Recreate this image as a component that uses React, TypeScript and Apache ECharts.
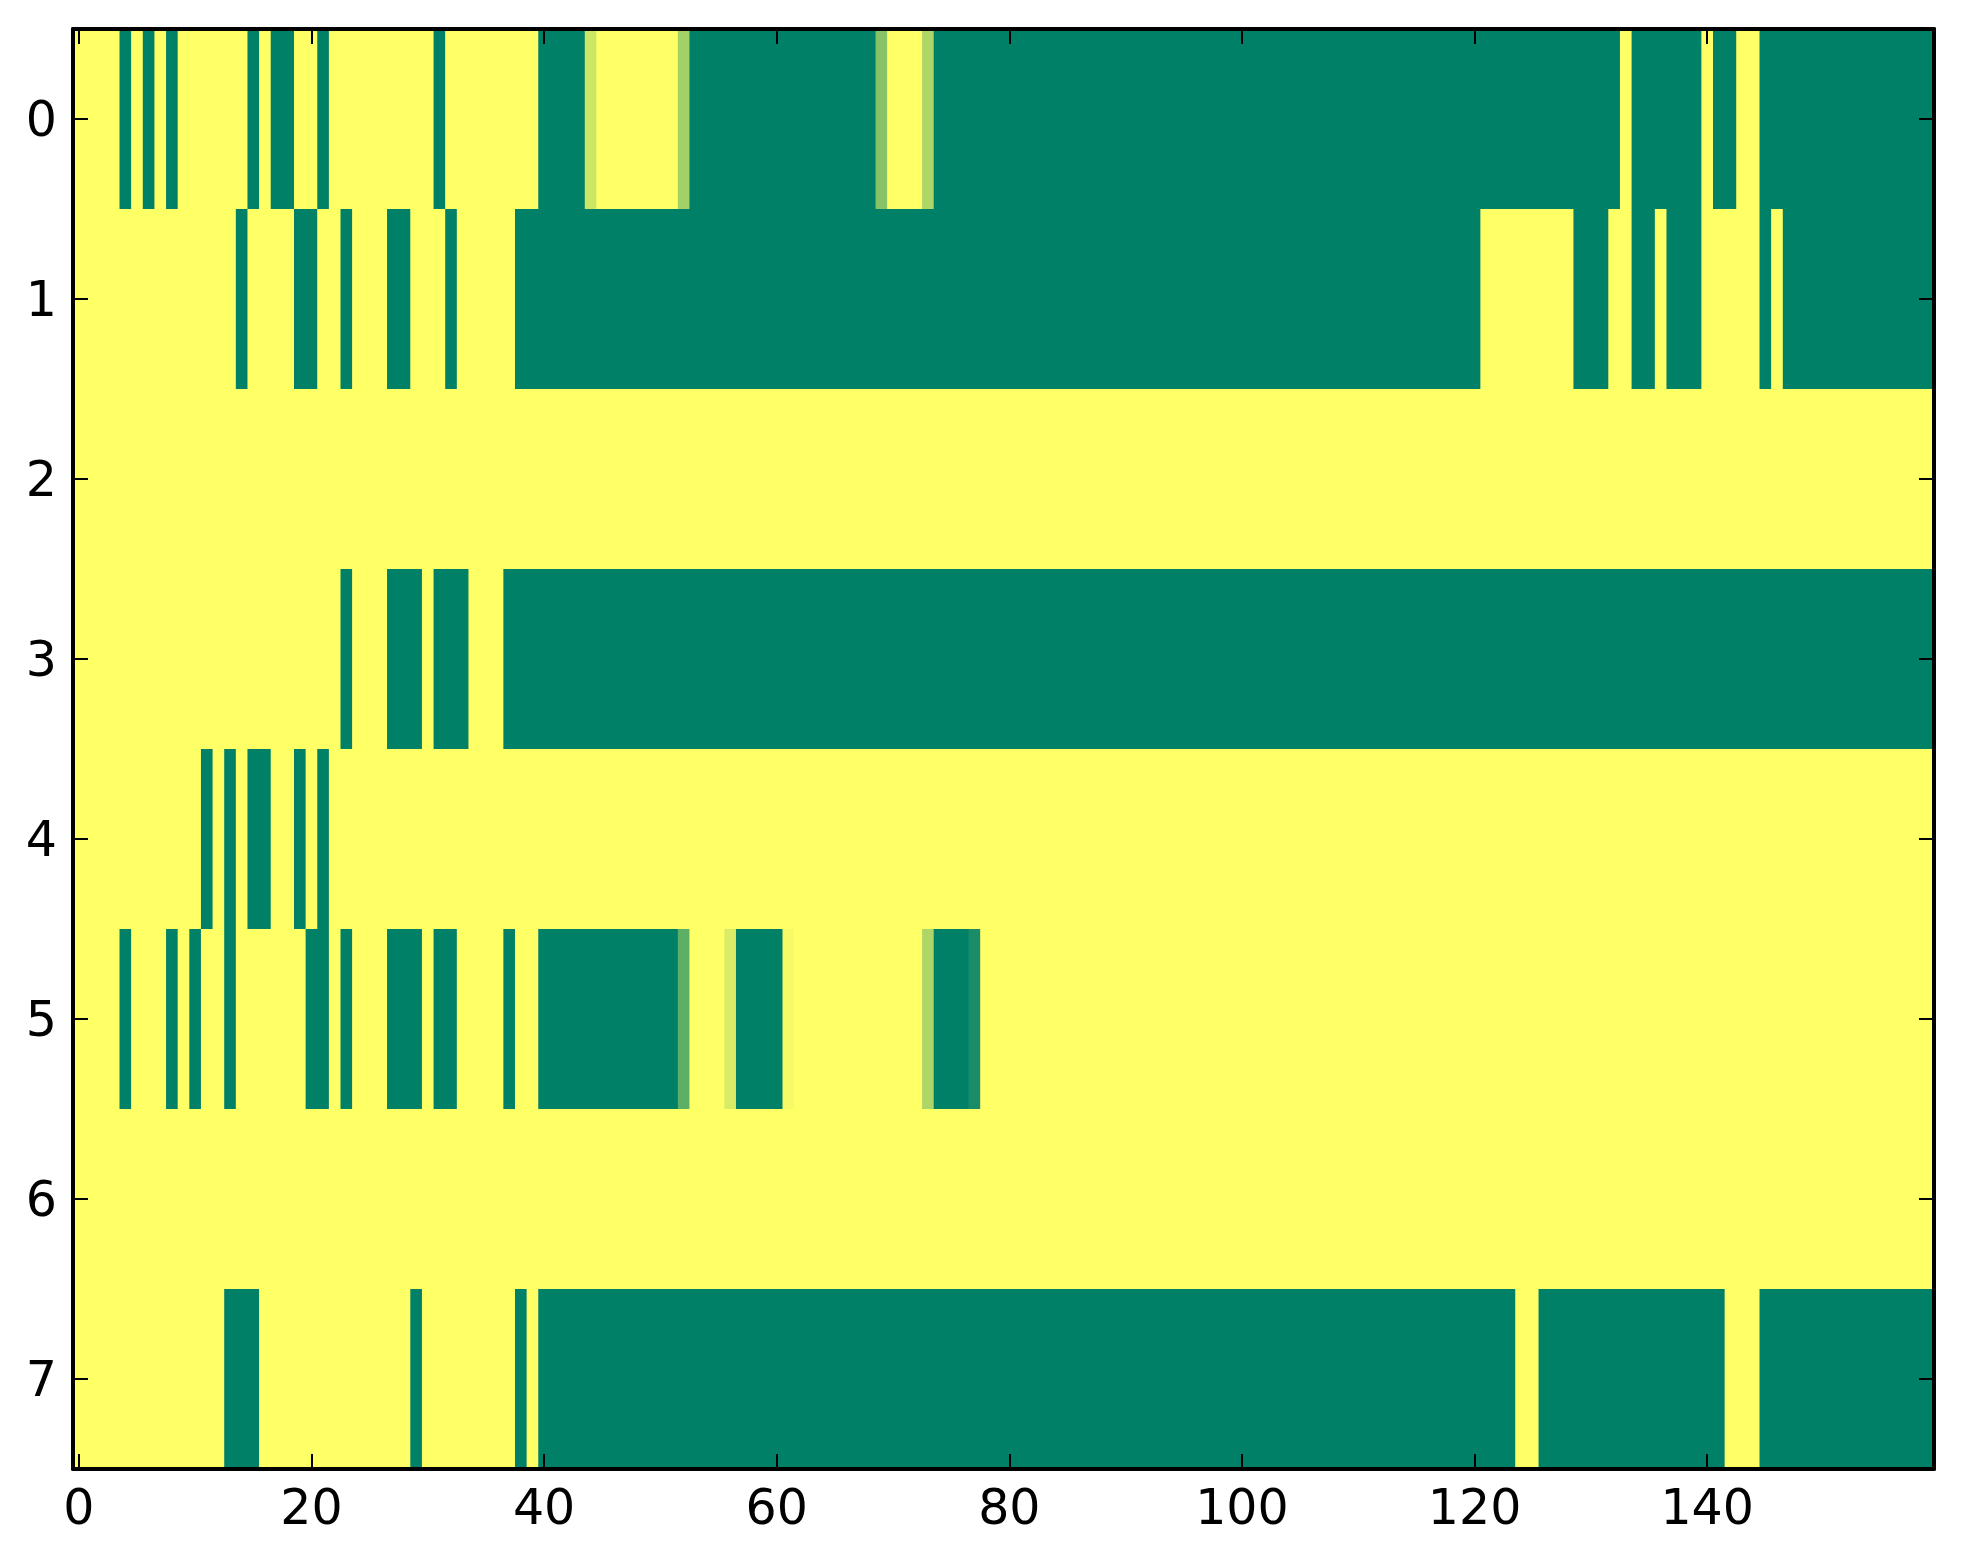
import React, { useEffect, useRef } from "react";
import * as echarts from "echarts";

// Row labels (y axis, top to bottom) and number of columns (x axis)
const rowLabels = ["0", "1", "2", "3", "4", "5", "6", "7"];
const columnCount = 160;
const xTickValues = [0, 20, 40, 60, 80, 100, 120, 140];

// Each row is given as runs: [firstColumn, lastColumn, value]
// value 1 = yellow, 0 = green, in-between = blended tones
const row0: [number, number, number][] = [
  [0, 3, 1], [4, 4, 0], [5, 5, 1], [6, 6, 0], [7, 7, 1], [8, 8, 0], [9, 14, 1],
  [15, 15, 0], [16, 16, 1], [17, 18, 0], [19, 20, 1], [21, 21, 0], [22, 30, 1],
  [31, 31, 0], [32, 39, 1], [40, 43, 0], [44, 44, 0.8], [45, 51, 1], [52, 52, 0.64],
  [53, 68, 0], [69, 69, 0.53], [70, 72, 1], [73, 73, 0.68], [74, 132, 0],
  [133, 133, 1], [134, 139, 0], [140, 140, 1], [141, 142, 0], [143, 144, 1], [145, 159, 0],
];
const row1: [number, number, number][] = [
  [0, 13, 1], [14, 14, 0], [15, 18, 1], [19, 20, 0], [21, 22, 1], [23, 23, 0],
  [24, 26, 1], [27, 28, 0], [29, 31, 1], [32, 32, 0], [33, 37, 1], [38, 120, 0],
  [121, 128, 1], [129, 131, 0], [132, 133, 1], [134, 135, 0], [136, 136, 1],
  [137, 139, 0], [140, 144, 1], [145, 145, 0], [146, 146, 1], [147, 159, 0],
];
const row2: [number, number, number][] = [[0, 159, 1]];
const row3: [number, number, number][] = [
  [0, 22, 1], [23, 23, 0], [24, 26, 1], [27, 29, 0], [30, 30, 1], [31, 33, 0],
  [34, 36, 1], [37, 159, 0],
];
const row4: [number, number, number][] = [
  [0, 10, 1], [11, 11, 0], [12, 12, 1], [13, 13, 0], [14, 14, 1], [15, 16, 0],
  [17, 18, 1], [19, 19, 0], [20, 20, 1], [21, 21, 0], [22, 159, 1],
];
const row5: [number, number, number][] = [
  [0, 3, 1], [4, 4, 0], [5, 7, 1], [8, 8, 0], [9, 9, 1], [10, 10, 0], [11, 12, 1],
  [13, 13, 0], [14, 19, 1], [20, 21, 0], [22, 22, 1], [23, 23, 0], [24, 26, 1],
  [27, 29, 0], [30, 30, 1], [31, 32, 0], [33, 36, 1], [37, 37, 0], [38, 39, 1],
  [40, 51, 0], [52, 52, 0.37], [53, 55, 1], [56, 56, 0.85], [57, 60, 0],
  [61, 61, 0.96], [62, 72, 1], [73, 73, 0.68], [74, 76, 0], [77, 77, 0.1], [78, 159, 1],
];
const row6: [number, number, number][] = [[0, 159, 1]];
const row7: [number, number, number][] = [
  [0, 12, 1], [13, 15, 0], [16, 28, 1], [29, 29, 0], [30, 37, 1], [38, 38, 0],
  [39, 39, 1], [40, 123, 0], [124, 125, 1], [126, 141, 0], [142, 144, 1], [145, 159, 0],
];

const rows = [row0, row1, row2, row3, row4, row5, row6, row7];

// [firstColumn, lastColumn, rowIndex, value]
function buildRuns(): [number, number, number, number][] {
  const out: [number, number, number, number][] = [];
  rows.forEach((runs, r) => {
    runs.forEach(([a, b, v]) => out.push([a, b, r, v]));
  });
  return out;
}

const FONT = "DejaVu Sans";

export default function App() {
  const ref = useRef<HTMLDivElement>(null);

  useEffect(() => {
    if (!ref.current) return;
    const chart = echarts.init(ref.current, undefined, { renderer: "svg" });
    const xCats = Array.from({ length: columnCount }, (_, i) => String(i));
    const showX = (index: number) => xTickValues.includes(index);
    const axisLine = { show: true, lineStyle: { color: "#000", width: 4 } };
    const tick = {
      show: true,
      inside: true,
      length: 15,
      alignWithLabel: true,
      lineStyle: { color: "#000", width: 2 },
    };
    chart.setOption({
      animation: false,
      backgroundColor: "#fff",
      grid: { left: 73, top: 29, width: 1861, height: 1440, containLabel: false },
      visualMap: {
        show: false,
        type: "continuous",
        dimension: 3,
        min: 0,
        max: 1,
        inRange: { color: ["#008066", "#FFFF66"] },
      },
      xAxis: [
        {
          type: "category",
          data: xCats,
          position: "bottom",
          z: 10,
          axisLine,
          axisTick: { ...tick, interval: (i: number) => showX(i) },
          axisLabel: {
            interval: (i: number) => showX(i),
            color: "#000",
            fontFamily: FONT,
            fontSize: 49,
            margin: 14,
          },
          splitLine: { show: false },
        },
        {
          type: "category",
          data: xCats,
          position: "top",
          z: 10,
          axisLine,
          axisTick: { ...tick, interval: (i: number) => showX(i) },
          axisLabel: { show: false },
          splitLine: { show: false },
        },
      ],
      yAxis: [
        {
          type: "category",
          data: rowLabels,
          inverse: true,
          position: "left",
          z: 10,
          axisLine,
          axisTick: { ...tick, interval: 0 },
          axisLabel: {
            interval: 0,
            color: "#000",
            fontFamily: FONT,
            fontSize: 49,
            margin: 16,
          },
          splitLine: { show: false },
        },
        {
          type: "category",
          data: rowLabels,
          inverse: true,
          position: "right",
          z: 10,
          axisLine,
          axisTick: { ...tick, interval: 0 },
          axisLabel: { show: false },
          splitLine: { show: false },
        },
      ],
      series: [
        {
          type: "custom",
          xAxisIndex: 0,
          yAxisIndex: 0,
          data: buildRuns(),
          encode: { x: [0, 1], y: 2 },
          silent: true,
          renderItem: (params: any, api: any) => {
            const a = api.value(0);
            const b = api.value(1);
            const r = api.value(2);
            const p = api.coord([a, r]);
            const size = api.size([1, 1]);
            const x = p[0] - size[0] / 2;
            const y = p[1] - size[1] / 2;
            return {
              type: "rect",
              shape: {
                x,
                y,
                width: (b - a + 1) * size[0] + 0.6,
                height: size[1] + 0.6,
              },
              style: { fill: api.visual("color"), stroke: null, lineWidth: 0 },
            };
          },
        },
      ],
    });
    return () => chart.dispose();
  }, []);

  return (
    <div
      ref={ref}
      style={{ position: "absolute", left: 0, top: 0, width: 1963, height: 1564 }}
    />
  );
}
